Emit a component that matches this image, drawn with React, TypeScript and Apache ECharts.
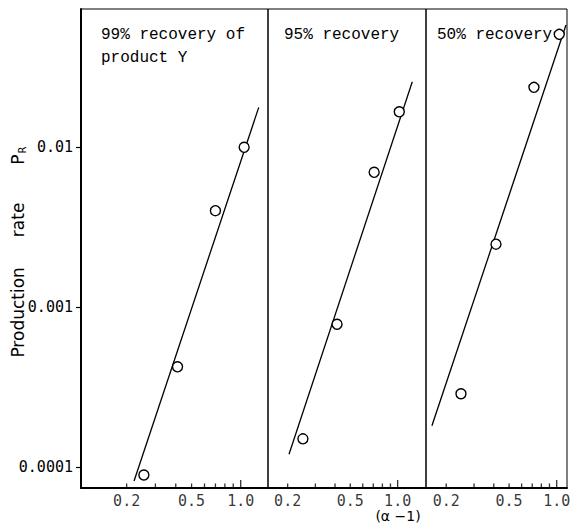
import React, { useEffect, useRef } from "react";
import * as echarts from "echarts";

// Shared axis extents (log scale)
const yExtent = [7.39e-5, 0.0729];
const xExtents = [
  [0.105, 1.47],
  [0.15, 1.514],
  [0.149, 1.162],
];

// Tick marks along (α-1) and the ones that carry a label
const xTickValues = [0.2, 0.3, 0.4, 0.5, 0.6, 0.7, 0.8, 0.9, 1.0];
const xLabelledTicks = [0.2, 0.5, 1.0];

// Panel headings
const panelTitles = [["99% recovery of", "product Y"], ["95% recovery"], ["50% recovery"]];

// 99% recovery of product Y
const alpha99 = [0.255, 0.41, 0.7, 1.05];
const rate99 = [0.0000891, 0.000423, 0.004, 0.00996];
const fitAlpha99 = [0.222, 1.29];
const fitRate99 = [0.0000818, 0.0177];

// 95% recovery
const alpha95 = [0.25, 0.412, 0.709, 1.024];
const rate95 = [0.00015, 0.00078, 0.00695, 0.0166];
const fitAlpha95 = [0.204, 1.239];
const fitRate95 = [0.00012, 0.0256];

// 50% recovery
const alpha50 = [0.248, 0.413, 0.718, 1.038];
const rate50 = [0.000287, 0.00247, 0.0236, 0.0506];
const fitAlpha50 = [0.1624, 1.145];
const fitRate50 = [0.000181, 0.0579];

const panels = [
  { alpha: alpha99, rate: rate99, fitAlpha: fitAlpha99, fitRate: fitRate99 },
  { alpha: alpha95, rate: rate95, fitAlpha: fitAlpha95, fitRate: fitRate95 },
  { alpha: alpha50, rate: rate50, fitAlpha: fitAlpha50, fitRate: fitRate50 },
];

const gridLefts = [81, 268, 426];
const gridWidths = [187, 158, 141];
const gridTop = 9;
const gridHeight = 479;

const MONO = '"DejaVu Sans Mono", monospace';
const TYPE = '"Liberation Mono", "Courier New", monospace';
const SANS = '"DejaVu Sans", sans-serif';

export default function App() {
  const ref = useRef<HTMLDivElement>(null);

  useEffect(() => {
    if (!ref.current) return;
    const chart = echarts.init(ref.current, undefined, { renderer: "svg" });

    const grid = gridLefts.map((left, i) => ({
      left,
      top: gridTop,
      width: gridWidths[i],
      height: gridHeight,
      show: true,
      borderColor: "#000",
      borderWidth: 1,
      backgroundColor: "transparent",
    }));

    const xAxis = xExtents.map((ext, i) => ({
      type: "log",
      gridIndex: i,
      min: ext[0],
      max: ext[1],
      axisLine: { show: true, onZero: false, lineStyle: { color: "#000", width: 2 } },
      axisTick: { show: false },
      axisLabel: { show: false },
      splitLine: { show: false },
    }));

    const yAxis = [0, 1, 2].map((i) => ({
      type: "log",
      gridIndex: i,
      min: yExtent[0],
      max: yExtent[1],
      axisLine: { show: i === 0, lineStyle: { color: "#000", width: 2 } },
      axisTick: {
        show: i === 0,
        length: 5,
        lineStyle: { color: "#000", width: 1.2 },
      },
      axisLabel: {
        show: i === 0,
        showMinLabel: false,
        showMaxLabel: false,
        margin: 8,
        color: "#000",
        fontFamily: MONO,
        fontSize: 15,
        formatter: (v: number) => String(v),
      },
      splitLine: { show: false },
    }));

    const series: any[] = [];
    panels.forEach((p, i) => {
      series.push({
        type: "line",
        xAxisIndex: i,
        yAxisIndex: i,
        data: p.fitAlpha.map((a, k) => [a, p.fitRate[k]]),
        symbol: "none",
        lineStyle: { color: "#000", width: 1.3 },
        z: 2,
        silent: true,
      });
      series.push({
        type: "scatter",
        xAxisIndex: i,
        yAxisIndex: i,
        data: p.alpha.map((a, k) => [a, p.rate[k]]),
        symbol: "circle",
        symbolSize: 10,
        itemStyle: { color: "#fff", borderColor: "#000", borderWidth: 1.4, opacity: 1 },
        z: 4,
        silent: true,
      });
      // (α-1) tick marks, drawn upward from the bottom axis
      series.push({
        type: "scatter",
        xAxisIndex: i,
        yAxisIndex: i,
        clip: false,
        silent: true,
        symbol: "rect",
        data: xTickValues.map((v) => {
          const h = v === 1.0 ? 8 : 4.5;
          return { value: [v, yExtent[0]], symbolSize: [1.3, h], symbolOffset: [0, -h / 2] };
        }),
        itemStyle: { color: "#000" },
        label: {
          show: true,
          position: "bottom",
          distance: 5,
          lineHeight: 15,
          color: "#000",
          fontFamily: MONO,
          fontSize: 15,
          formatter: (q: any) => {
            const v = q.value[0];
            return xLabelledTicks.includes(v) ? v.toFixed(1) : "";
          },
        },
        z: 3,
      });
    });

    const titleGraphics: any[] = [];
    const titleX = [101, 284, 437];
    panelTitles.forEach((lines, i) => {
      lines.forEach((t, k) => {
        titleGraphics.push({
          type: "text",
          x: titleX[i],
          y: 35 + k * 23,
          style: {
            text: t,
            font: `16px ${TYPE}`,
            fill: "#000",
            align: "left",
            verticalAlign: "middle",
          },
        });
      });
    });

    // Vertical axis title, reading bottom-to-top
    const yTitle = {
      type: "text",
      x: 18,
      y: 252,
      rotation: Math.PI / 2,
      style: {
        text: "{a|Production}{g|}{a|rate}{h|}{a|P}{s|R}",
        align: "center",
        verticalAlign: "middle",
        rich: {
          a: { fontFamily: SANS, fontSize: 17, color: "#000" },
          s: { fontFamily: SANS, fontSize: 10, color: "#000", padding: [9, 0, 0, 1] },
          g: { width: 30 },
          h: { width: 38 },
        },
      },
    };

    const graphic = [
      ...titleGraphics,
      yTitle,
      {
        type: "text",
        x: 398,
        y: 516,
        style: {
          text: "(α −1)",
          font: `14px ${SANS}`,
          lineHeight: 15,
          fill: "#000",
          align: "center",
          verticalAlign: "middle",
        },
      },
    ];

    chart.setOption({
      animation: false,
      backgroundColor: "#fff",
      grid,
      xAxis,
      yAxis,
      series,
      graphic,
    });

    return () => chart.dispose();
  }, []);

  return (
    <div
      ref={ref}
      style={{ position: "fixed", left: 0, top: 0, width: 571, height: 524, background: "#fff" }}
    />
  );
}
